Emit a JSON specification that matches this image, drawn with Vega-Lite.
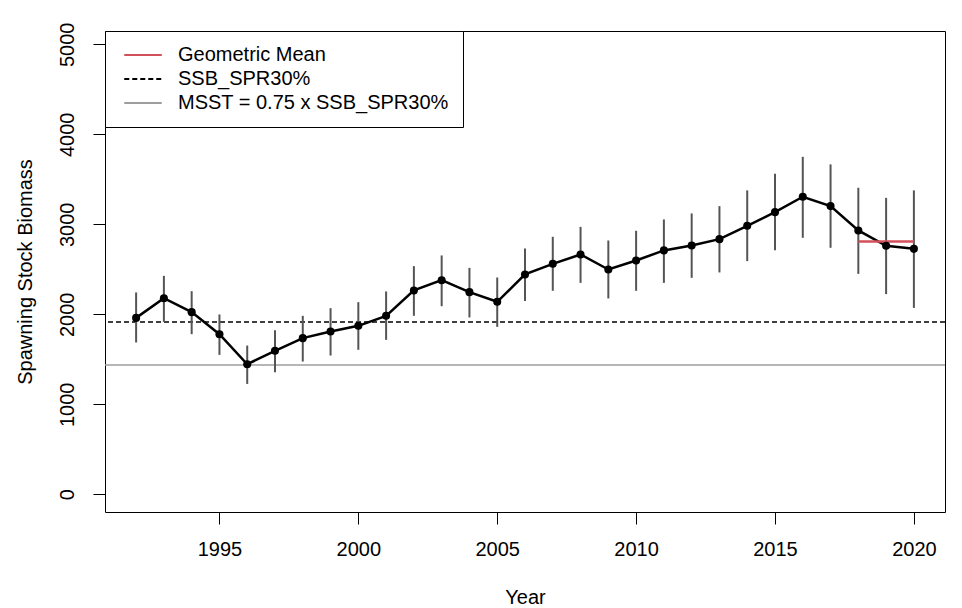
{
  "$schema": "https://vega.github.io/schema/vega-lite/v6.json",
  "width": 840,
  "height": 481,
  "autosize": {"type": "none"},
  "padding": {"left": 105, "top": 31, "right": 17, "bottom": 96},
  "background": "white",
  "config": {
    "font": "Liberation Sans",
    "view": {"stroke": "black", "strokeWidth": 1},
    "axis": {
      "grid": false,
      "domain": false,
      "tickColor": "black",
      "tickSize": 12,
      "labelFontSize": 20,
      "labelColor": "black",
      "titleFontSize": 20,
      "titleFontWeight": "normal",
      "titleColor": "black"
    },
    "axisY": {
      "labelAngle": 270,
      "labelAlign": "center",
      "labelBaseline": "alphabetic",
      "labelPadding": 20,
      "titlePadding": 22
    },
    "axisX": {
      "labelPadding": 15,
      "titlePadding": 28
    },
    "legend": {
      "orient": "top-left",
      "offset": 0,
      "padding": 14,
      "rowPadding": 4,
      "strokeColor": "black",
      "fillColor": "white",
      "labelFontSize": 20,
      "labelColor": "black",
      "labelLimit": 0,
      "symbolType": "M-2.5,0H2.5",
      "symbolSize": 225,
      "symbolStrokeWidth": 2,
      "symbolOffset": 14,
      "labelOffset": 25
    }
  },
  "datasets": {
    "ssb": [
      {"year": 1992, "ssb": 1960, "lo": 1687, "hi": 2243},
      {"year": 1993, "ssb": 2179, "lo": 1916, "hi": 2427},
      {"year": 1994, "ssb": 2024, "lo": 1779, "hi": 2257},
      {"year": 1995, "ssb": 1779, "lo": 1549, "hi": 1998},
      {"year": 1996, "ssb": 1445, "lo": 1226, "hi": 1653},
      {"year": 1997, "ssb": 1594, "lo": 1356, "hi": 1823},
      {"year": 1998, "ssb": 1735, "lo": 1475, "hi": 1983},
      {"year": 1999, "ssb": 1809, "lo": 1542, "hi": 2068},
      {"year": 2000, "ssb": 1872, "lo": 1605, "hi": 2135},
      {"year": 2001, "ssb": 1983, "lo": 1716, "hi": 2254},
      {"year": 2002, "ssb": 2265, "lo": 1983, "hi": 2535},
      {"year": 2003, "ssb": 2379, "lo": 2090, "hi": 2654},
      {"year": 2004, "ssb": 2246, "lo": 1965, "hi": 2516},
      {"year": 2005, "ssb": 2139, "lo": 1860, "hi": 2409},
      {"year": 2006, "ssb": 2443, "lo": 2149, "hi": 2732},
      {"year": 2007, "ssb": 2561, "lo": 2261, "hi": 2861},
      {"year": 2008, "ssb": 2665, "lo": 2349, "hi": 2972},
      {"year": 2009, "ssb": 2498, "lo": 2176, "hi": 2820},
      {"year": 2010, "ssb": 2598, "lo": 2261, "hi": 2928},
      {"year": 2011, "ssb": 2710, "lo": 2349, "hi": 3054},
      {"year": 2012, "ssb": 2765, "lo": 2405, "hi": 3121},
      {"year": 2013, "ssb": 2835, "lo": 2465, "hi": 3202},
      {"year": 2014, "ssb": 2983, "lo": 2591, "hi": 3377},
      {"year": 2015, "ssb": 3135, "lo": 2713, "hi": 3561},
      {"year": 2016, "ssb": 3306, "lo": 2850, "hi": 3750},
      {"year": 2017, "ssb": 3202, "lo": 2739, "hi": 3666},
      {"year": 2018, "ssb": 2932, "lo": 2449, "hi": 3406},
      {"year": 2019, "ssb": 2761, "lo": 2224, "hi": 3294},
      {"year": 2020, "ssb": 2727, "lo": 2071, "hi": 3377}
    ],
    "refs": [
      {"series": "SSB_SPR30%", "value": 1915},
      {"series": "MSST = 0.75 x SSB_SPR30%", "value": 1436}
    ],
    "gm": [
      {"series": "Geometric Mean", "value": 2810, "start": 2018, "end": 2020}
    ]
  },
  "layer": [
    {
      "data": {"name": "refs"},
      "mark": {"type": "rule", "strokeWidth": 1.5},
      "encoding": {
        "y": {
          "field": "value",
          "type": "quantitative",
          "scale": {"domain": [-197, 5148], "nice": false, "zero": false},
          "axis": {
            "title": "Spawning Stock Biomass",
            "values": [0, 1000, 2000, 3000, 4000, 5000],
            "format": "d",
            "labelAngle": 270
          }
        },
        "color": {
          "field": "series",
          "type": "nominal",
          "title": null,
          "scale": {
            "domain": ["Geometric Mean", "SSB_SPR30%", "MSST = 0.75 x SSB_SPR30%"],
            "range": ["#D2505A", "black", "#9E9E9E"]
          },
          "legend": {
            "encode": {
              "symbols": {
                "update": {
                  "strokeDash": {"signal": "datum.value === 'SSB_SPR30%' ? '12,8' : ''"}
                }
              }
            }
          }
        },
        "strokeDash": {
          "field": "series",
          "type": "nominal",
          "title": null,
          "scale": {
            "domain": ["Geometric Mean", "SSB_SPR30%", "MSST = 0.75 x SSB_SPR30%"],
            "range": [[1, 0], [5, 3], [1, 0]]
          },
          "legend": {
            "encode": {
              "symbols": {
                "update": {
                  "strokeDash": {"signal": "datum.value === 'SSB_SPR30%' ? '12,8' : ''"}
                }
              }
            }
          }
        }
      }
    },
    {
      "data": {"name": "ssb"},
      "mark": {"type": "rule", "color": "#555555", "strokeWidth": 2},
      "encoding": {
        "x": {
          "field": "year",
          "type": "quantitative",
          "scale": {"domain": [1990.88, 2021.12], "nice": false, "zero": false},
          "axis": {
            "title": "Year",
            "values": [1995, 2000, 2005, 2010, 2015, 2020],
            "format": "d"
          }
        },
        "y": {"field": "lo", "type": "quantitative"},
        "y2": {"field": "hi"}
      }
    },
    {
      "data": {"name": "ssb"},
      "mark": {"type": "line", "color": "black", "strokeWidth": 2.5},
      "encoding": {
        "x": {"field": "year", "type": "quantitative"},
        "y": {"field": "ssb", "type": "quantitative"}
      }
    },
    {
      "data": {"name": "gm"},
      "mark": {"type": "rule", "strokeWidth": 2.5},
      "encoding": {
        "x": {"field": "start", "type": "quantitative"},
        "x2": {"field": "end"},
        "y": {"field": "value", "type": "quantitative"},
        "color": {"field": "series", "type": "nominal"},
        "strokeDash": {"field": "series", "type": "nominal"}
      }
    },
    {
      "data": {"name": "ssb"},
      "mark": {"type": "circle", "color": "black", "opacity": 1, "size": 65},
      "encoding": {
        "x": {"field": "year", "type": "quantitative"},
        "y": {"field": "ssb", "type": "quantitative"}
      }
    }
  ]
}
